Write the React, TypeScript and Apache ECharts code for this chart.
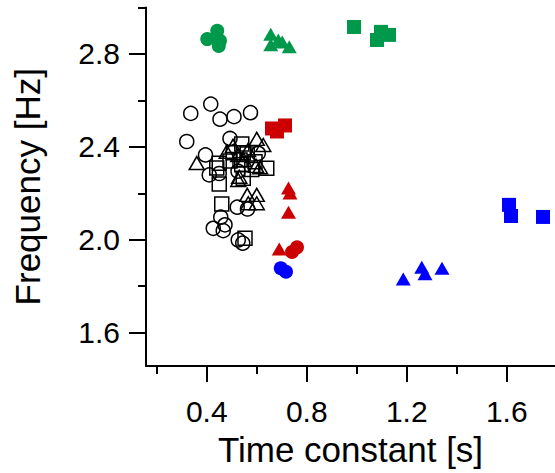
import React, { useEffect, useRef } from "react";
import * as echarts from "echarts";

// ---- data (x: time constant [s], y: frequency [Hz]) ----
const greenCircles: [number, number][] = [
  [0.402, 2.864], [0.442, 2.9], [0.453, 2.857], [0.448, 2.834],
];
const greenTriangles: [number, number][] = [
  [0.656, 2.885], [0.656, 2.84], [0.686, 2.86], [0.702, 2.851], [0.73, 2.831],
];
const greenSquares: [number, number][] = [
  [0.989, 2.916], [1.097, 2.895], [1.081, 2.86], [1.129, 2.882],
];
const redSquares: [number, number][] = [
  [0.661, 2.479], [0.681, 2.466], [0.713, 2.492],
];
const redTriangles: [number, number][] = [
  [0.727, 2.223], [0.733, 2.201], [0.727, 2.118], [0.69, 1.96],
];
const redCircles: [number, number][] = [
  [0.741, 1.947], [0.761, 1.967],
];
const blueCircles: [number, number][] = [
  [0.696, 1.877], [0.717, 1.862],
];
const blueTriangles: [number, number][] = [
  [1.186, 1.831], [1.26, 1.881], [1.273, 1.853], [1.341, 1.877],
];
const blueSquares: [number, number][] = [
  [1.609, 2.15], [1.617, 2.102], [1.745, 2.098],
];
const openCircles: [number, number][] = [
  [0.336, 2.544], [0.416, 2.584], [0.453, 2.519], [0.509, 2.53], [0.575, 2.547],
  [0.32, 2.423], [0.493, 2.436], [0.395, 2.365], [0.606, 2.372], [0.41, 2.279],
  [0.45, 2.285], [0.525, 2.295], [0.522, 2.14], [0.563, 2.132], [0.456, 2.097],
  [0.473, 2.064], [0.426, 2.049], [0.466, 2.039], [0.526, 1.999], [0.544, 1.985],
];
const openTriangles: [number, number][] = [
  [0.36, 2.33], [0.48, 2.379], [0.6, 2.434], [0.626, 2.408], [0.526, 2.365],
  [0.549, 2.343], [0.597, 2.318], [0.613, 2.312], [0.53, 2.271], [0.526, 2.257],
  [0.562, 2.193], [0.6, 2.193], [0.566, 2.157], [0.6, 2.157], [0.505, 2.404],
  [0.565, 2.386],
];
const openSquares: [number, number][] = [
  [0.45, 2.329], [0.45, 2.24], [0.46, 2.154], [0.54, 2.412], [0.562, 2.369],
  [0.533, 2.343], [0.593, 2.336], [0.64, 2.308], [0.546, 2.265], [0.553, 2.006],
  [0.506, 2.374], [0.546, 2.374], [0.493, 2.339], [0.54, 2.323], [0.58, 2.302],
  [0.44, 2.309],
];

const xMajorTicks = [0.4, 0.8, 1.2, 1.6];
const xMinorTicks = [0.2, 0.6, 1.0, 1.4];
const yMajorTicks = [1.6, 2.0, 2.4, 2.8];
const yMinorTicks = [1.8, 2.2, 2.6, 3.0];

const X_RANGE = [0.157, 1.793];
const Y_RANGE = [1.456, 3.0];

const GREEN = "#00984a";
const RED = "#cc0000";
const BLUE = "#0000ff";
const FONT = "Liberation Sans";

const filled = (data: [number, number][], symbol: string, size: any, color: string) => ({
  type: "scatter",
  data,
  symbol,
  symbolSize: size,
  itemStyle: { color, borderWidth: 0, opacity: 1 },
  z: 3,
});
const open = (data: [number, number][], symbol: string, size: any) => ({
  type: "scatter",
  data,
  symbol,
  symbolSize: size,
  itemStyle: { color: "rgba(0,0,0,0)", borderColor: "#000", borderWidth: 1.5, opacity: 1 },
  z: 2,
});

export default function App() {
  const ref = useRef<HTMLDivElement>(null);
  useEffect(() => {
    if (!ref.current) return;
    const chart = echarts.init(ref.current, null, { renderer: "svg" });
    const axisLineStyle = { color: "#000", width: 2 };
    const tri = [15, 13];
    chart.setOption({
      animation: false,
      grid: { left: 146, top: 7.5, right: 0, bottom: 107, containLabel: false },
      xAxis: [
        {
          type: "value",
          min: X_RANGE[0],
          max: X_RANGE[1],
          position: "bottom",
          axisLine: { show: true, lineStyle: axisLineStyle },
          axisTick: { show: true, length: 16, lineStyle: axisLineStyle, customValues: xMajorTicks },
          axisLabel: {
            customValues: xMajorTicks,
            formatter: (v: number) => v.toFixed(1),
            fontSize: 30,
            color: "#000",
            fontFamily: FONT,
            margin: 30,
          },
          splitLine: { show: false },
          name: "Time constant [s]",
          nameLocation: "middle",
          nameGap: 66,
          nameTextStyle: { fontSize: 35, color: "#000", fontFamily: FONT },
        },
        {
          type: "value",
          min: X_RANGE[0],
          max: X_RANGE[1],
          position: "bottom",
          axisLine: { show: false },
          axisTick: { show: true, length: 8, lineStyle: axisLineStyle, customValues: xMinorTicks },
          axisLabel: { show: false },
          splitLine: { show: false },
        },
      ],
      yAxis: [
        {
          type: "value",
          min: Y_RANGE[0],
          max: Y_RANGE[1],
          position: "left",
          axisLine: { show: true, lineStyle: axisLineStyle },
          axisTick: { show: true, length: 17, lineStyle: axisLineStyle, customValues: yMajorTicks },
          axisLabel: {
            customValues: yMajorTicks,
            formatter: (v: number) => v.toFixed(1),
            fontSize: 30,
            color: "#000",
            fontFamily: FONT,
            margin: 26,
          },
          splitLine: { show: false },
          name: "Frequency [Hz]",
          nameLocation: "middle",
          nameGap: 101,
          nameRotate: 90,
          nameTextStyle: { fontSize: 35, color: "#000", fontFamily: FONT },
        },
        {
          type: "value",
          min: Y_RANGE[0],
          max: Y_RANGE[1],
          position: "left",
          axisLine: { show: false },
          axisTick: { show: true, length: 8, lineStyle: axisLineStyle, customValues: yMinorTicks },
          axisLabel: { show: false },
          splitLine: { show: false },
        },
      ],
      series: [
        open(openCircles, "circle", 14),
        open(openTriangles, "triangle", tri),
        open(openSquares, "rect", 14),
        filled(greenCircles, "circle", 14, GREEN),
        filled(greenTriangles, "triangle", tri, GREEN),
        filled(greenSquares, "rect", 14, GREEN),
        filled(redSquares, "rect", 14, RED),
        filled(redTriangles, "triangle", tri, RED),
        filled(redCircles, "circle", 14, RED),
        filled(blueCircles, "circle", 14, BLUE),
        filled(blueTriangles, "triangle", tri, BLUE),
        filled(blueSquares, "rect", 14, BLUE),
      ],
    });
    return () => chart.dispose();
  }, []);
  return (
    <div
      ref={ref}
      style={{ position: "fixed", left: 0, top: 0, width: 555, height: 473, background: "#fff" }}
    />
  );
}
